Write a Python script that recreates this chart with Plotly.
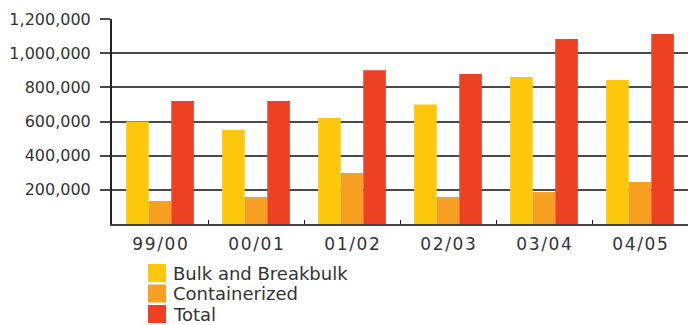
import plotly.graph_objects as go

# Cargo throughput by financial year (tonnes)
years = ["99/00", "00/01", "01/02", "02/03", "03/04", "04/05"]
bulk_breakbulk = [600000, 550000, 620000, 700000, 860000, 843000]
containerized = [135000, 158000, 298000, 158000, 187000, 246000]
total = [720000, 720000, 900000, 878000, 1083000, 1112000]

series_names = ["Bulk and Breakbulk", "Containerized", "Total"]
series_colors = ["#FDC70C", "#F7A022", "#EE4023"]
series_values = [bulk_breakbulk, containerized, total]

y_ticks = [200000, 400000, 600000, 800000, 1000000, 1200000]
y_tick_text = ["200,000", "400,000", "600,000", "800,000", "1,000,000", "1,200,000"]

FONT = "DejaVu Sans"
TEXT = "#333333"
W, H = 688, 325
L, R, T, B = 112, 0, 19, 101
PW, PH = W - L - R, H - T - B

fig = go.Figure()
for name, color, vals in zip(series_names, series_colors, series_values):
    fig.add_trace(go.Bar(x=years, y=vals, name=name,
                         marker=dict(color=color, line=dict(width=0))))

# letter-spaced category labels
spaced = ["\u200a".join(y) for y in years]

# legend drawn as square swatches with labels below the axis
def px_x(px):
    return (px - L) / PW

def px_y(py):
    return (H - B - py) / PH

shapes, annotations = [], []
for i, (name, color) in enumerate(zip(series_names, series_colors)):
    top = 264 + i * 20.5
    shapes.append(dict(type="rect", xref="paper", yref="paper",
                       x0=px_x(148), x1=px_x(166), y0=px_y(top + 18), y1=px_y(top),
                       fillcolor=color, line=dict(width=0)))
    annotations.append(dict(text=name, xref="paper", yref="paper",
                            x=px_x(171), y=px_y(top + 9), xanchor="left", yanchor="middle",
                            showarrow=False, font=dict(size=18, color=TEXT, family=FONT)))

fig.update_layout(
    width=W, height=H,
    margin=dict(l=L, r=R, t=T, b=B, autoexpand=False),
    paper_bgcolor="white", plot_bgcolor="white",
    barmode="group", bargap=0.295, bargroupgap=0,
    showlegend=False,
    font=dict(family=FONT, size=16, color=TEXT),
    shapes=shapes, annotations=annotations,
)
fig.update_yaxes(range=[0, 1200000], tickvals=y_ticks, ticktext=y_tick_text,
                 showgrid=True, gridcolor="#4a4a4a", gridwidth=2,
                 ticks="outside", ticklen=10, tickcolor="#4a4a4a", tickwidth=2,
                 showline=True, linecolor="#222222", linewidth=2,
                 zeroline=False, ticklabelstandoff=6, fixedrange=True)
fig.update_xaxes(tickvals=years, ticktext=spaced, tickfont=dict(size=17),
                 showline=True, linecolor="#444444", linewidth=2,
                 ticks="inside", tickson="boundaries", ticklen=4, tickcolor="#222222",
                 tickwidth=1, ticklabelstandoff=4, showgrid=False, fixedrange=True)

fig.write_html("out.html")
